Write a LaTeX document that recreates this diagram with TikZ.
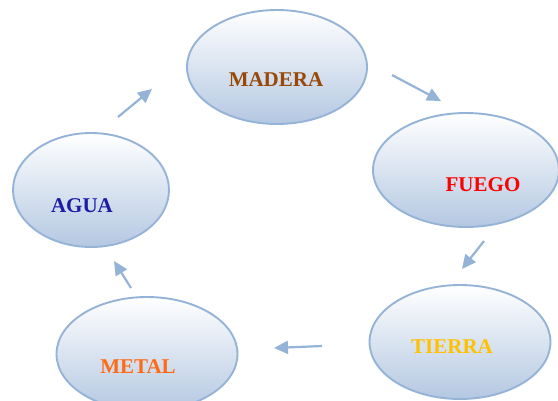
\documentclass[tikz,border=0pt]{standalone}
\usepackage{fontspec}
\setmainfont{Liberation Serif}
\usepackage{xcolor}
\usetikzlibrary{shapes.geometric, arrows.meta}

\definecolor{borde}{HTML}{95B3D7}
\definecolor{fondo}{HTML}{B4C8E2}
\definecolor{cmadera}{HTML}{984807}
\definecolor{cagua}{HTML}{1C1CA6}
\definecolor{cfuego}{HTML}{FF0000}
\definecolor{ctierra}{HTML}{FFC000}
\definecolor{cmetal}{HTML}{FF6A13}

\tikzset{
    elemento/.style={ellipse, draw=borde, line width=1.9pt, top color=white, bottom color=fondo,
        minimum width=180pt, minimum height=114pt, inner sep=0pt},
    nombre/.style={font=\fontsize{21}{24}\selectfont\bfseries, inner sep=0pt},
    flecha/.style={draw=borde, line width=2.2pt, -{Triangle[length=14pt,width=13pt]}}
}

\begin{document}
\begin{tikzpicture}[x=1pt, y=-1pt]
            \useasboundingbox (0, 0) rectangle (558, 400);

            \node[elemento] (madera) at (277, 67) {};
            \node[nombre, text=cmadera] (tmadera) at (276, 80) {MADERA};
            \node[elemento, minimum width=186pt] (fuego) at (466, 170) {};
            \node[nombre, text=cfuego] (tfuego) at (483, 185) {FUEGO};
            \node[elemento, minimum width=181pt] (tierra) at (460, 342) {};
            \node[nombre, text=ctierra] (ttierra) at (452, 347) {TIERRA};
            \node[elemento, minimum width=181pt] (metal) at (147, 354) {};
            \node[nombre, text=cmetal] (tmetal) at (138, 367) {METAL};
            \node[elemento, minimum width=156pt] (agua) at (91, 190) {};
            \node[nombre, text=cagua] (tagua) at (82, 206) {AGUA};

            \coordinate (a1) at (118, 117);
            \coordinate (a2) at (152, 89);
            \coordinate (b1) at (392, 75);
            \coordinate (b2) at (441, 101);
            \coordinate (c1) at (484, 241);
            \coordinate (c2) at (462, 269);
            \coordinate (d1) at (322, 346);
            \coordinate (d2) at (274, 348);
            \coordinate (e1) at (131, 288);
            \coordinate (e2) at (114, 261);

            \draw[flecha] (a1) -- (a2); % agua-madera
            \draw[flecha] (b1) -- (b2); % madera-fuego
            \draw[flecha] (c1) -- (c2); % fuego-tierra
            \draw[flecha] (d1) -- (d2); % tierra-metal
            \draw[flecha] (e1) -- (e2); % metal-agua
        \end{tikzpicture}
\end{document}
